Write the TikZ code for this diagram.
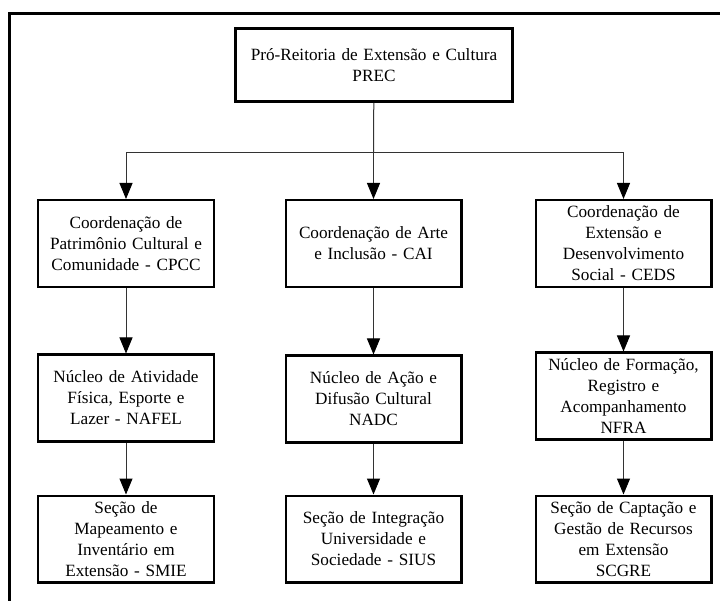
\documentclass[tikz,border=0pt]{standalone}
\usepackage{fontspec}
\setmainfont{Liberation Serif}
\usetikzlibrary{arrows.meta}
\tikzstyle{unit} = [rectangle, draw=black, line width=2.4pt, minimum width=175.6pt, minimum height=86.6pt, text width=174pt, align=center, inner sep=0pt, font=\fontsize{17.2}{21}\selectfont]
\tikzstyle{head} = [unit, line width=3pt, minimum width=277pt, minimum height=73pt, text width=272pt, font=\fontsize{17.2}{20.5}\selectfont]
\tikzstyle{link} = [draw=black!80, line width=1pt]
\tikzstyle{arrow} = [link, -{Triangle[length=16pt,width=13pt,color=black]}]

\begin{document}
\begin{tikzpicture}[x=1pt, y=-1pt]
		\useasboundingbox (0,0) rectangle (720,601);
		\draw[line width=3pt] (9.5,601) -- (9.5,13.5) -- (720,13.5);
		\node (prec) [head] at (374,65) {Pró-Reitoria de Extensão e Cultura\\PREC};
		\coordinate (bus) at (373.5,152.5);
		\node (cpcc) [unit] at (126,243.5) {Coordenação de\\Patrimônio Cultural e\\Comunidade - CPCC};
		\node (cai) [unit] at (373.5,243.5) {Coordenação de Arte\\e Inclusão - CAI};
		\node (ceds) [unit] at (623.5,243.5) {Coordenação de\\Extensão e\\Desenvolvimento\\Social - CEDS};
		\node (nafel) [unit] at (126,398) {Núcleo de Atividade\\Física, Esporte e\\Lazer - NAFEL};
		\node (nadc) [unit] at (373.5,399) {Núcleo de Ação e\\Difusão Cultural\\NADC};
		\node (nfra) [unit] at (623.5,396) {Núcleo de Formação,\\Registro e\\Acompanhamento\\NFRA};
		\node (smie) [unit] at (126,539) {Seção de\\Mapeamento e\\Inventário em\\Extensão - SMIE};
		\node (sius) [unit] at (373.5,539) {Seção de Integração\\Universidade e\\Sociedade - SIUS};
		\node (scgre) [unit] at (623.5,539) {Seção de Captação e\\Gestão de Recursos\\em Extensão\\SCGRE};
		\draw [link] (prec) -- (bus);
		\draw [arrow] (bus) -| (cpcc);
		\draw [arrow] (bus) -- (cai);
		\draw [arrow] (bus) -| (ceds);
		\draw [arrow] (cpcc) -- (nafel);
		\draw [arrow] (cai) -- (nadc);
		\draw [arrow] (ceds) -- (nfra);
		\draw [arrow] (nafel) -- (smie);
		\draw [arrow] (nadc) -- (sius);
		\draw [arrow] (nfra) -- (scgre);
	\end{tikzpicture}
\end{document}
